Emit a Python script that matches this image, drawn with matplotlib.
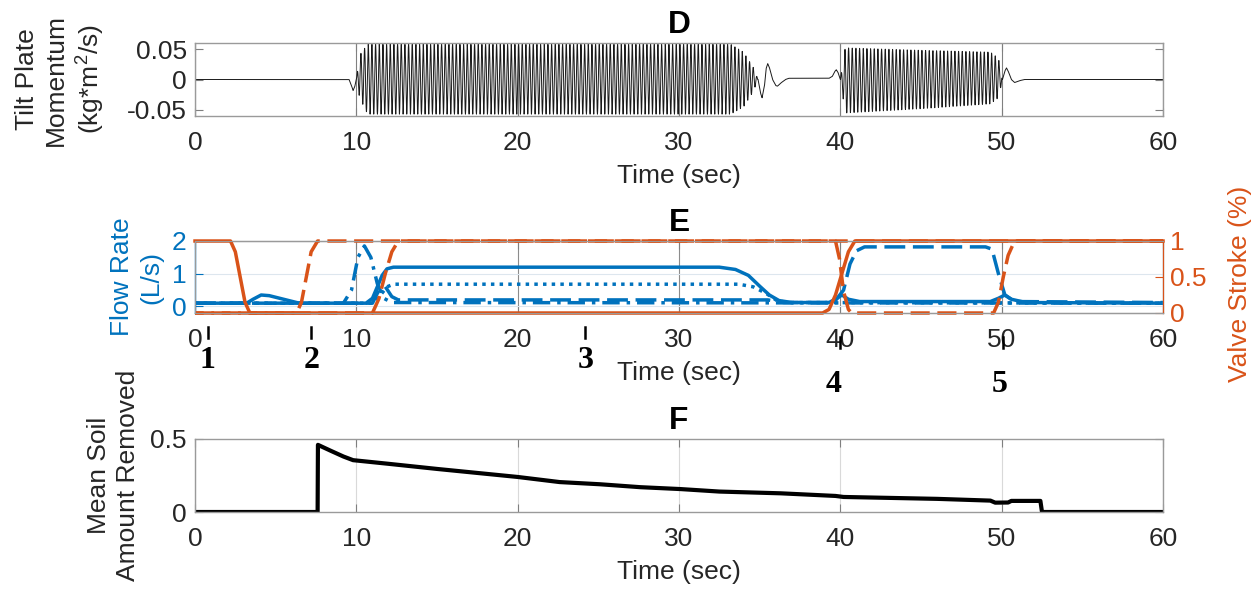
import numpy as np
import matplotlib
matplotlib.use('Agg')
import matplotlib.pyplot as plt
from matplotlib.transforms import blended_transform_factory

plt.rcParams['font.family'] = ['Liberation Sans', 'DejaVu Sans']
plt.rcParams['font.size'] = 19
plt.rcParams['mathtext.default'] = 'regular'

BLUE = '#0072BD'
ORANGE = '#D95319'
DARK = '#262626'

# ---------- D: tilt plate momentum (kg*m^2/s) ----------
# slow part of the trace (start/stop transients)
d_slow_t = [0, 9.55, 9.7, 9.8, 9.9, 10.0, 34.9, 35.05, 35.15, 35.3, 35.4, 35.5, 35.6,
            35.8, 36.0, 36.1, 36.3, 36.6, 36.8, 39.3, 39.5, 39.65, 39.75, 39.85, 40.0,
            50.05, 50.2, 50.3, 50.4, 50.6, 50.8, 51.1, 51.4, 60]
d_slow_v = [0, 0, -0.01, -0.018, -0.012, 0, 0, -0.022, -0.03, -0.01, 0.018, 0.026, 0.02,
            0.0, -0.01, -0.011, -0.006, 0.0, 0.002, 0.002, 0.005, 0.013, 0.016, 0.012, 0,
            0, 0.014, 0.019, 0.014, 0.0, -0.005, -0.002, 0, 0]
# upper / lower envelope of the fast oscillation
d_env_t = [0, 10.0, 10.2, 10.7, 33.2, 34.0, 34.6, 34.9, 40.0, 40.3, 45.0, 49.3, 49.8, 50.05, 60]
d_env_hi = [0, 0, 0.04, 0.058, 0.058, 0.045, 0.02, 0, 0, 0.052, 0.048, 0.045, 0.035, 0, 0]
d_env_lo = [0, 0, -0.03, -0.057, -0.057, -0.045, -0.02, 0, 0, -0.055, -0.048, -0.040, -0.03, 0, 0]
d_freq = 4.4  # Hz, counted from the stripes

# ---------- E: flow rate (L/s) and valve stroke ----------
q1_t = [0, 3.2, 3.6, 4.1, 4.6, 6.3, 6.5, 10.6, 11.0, 11.3, 11.6, 11.9, 12.3, 32.5, 33.5,
        34.3, 35.0, 35.6, 36.2, 37.0, 39.3, 39.8, 40.1, 40.5, 41.2, 49.3, 49.8, 50.2,
        50.6, 51.5, 60]
q1_v = [0.1, 0.1, 0.22, 0.35, 0.33, 0.12, 0.1, 0.1, 0.25, 0.6, 0.95, 1.15, 1.2, 1.2, 1.13,
        0.95, 0.62, 0.35, 0.18, 0.12, 0.12, 0.25, 0.35, 0.22, 0.15, 0.15, 0.25, 0.35,
        0.22, 0.12, 0.1]
q2_t = [0, 11.0, 11.4, 11.8, 12.2, 12.6, 35.5, 36.5, 39.6, 40.2, 40.6, 41.0, 41.5, 49.0,
        49.4, 49.8, 50.2, 50.8, 60]
q2_v = [0.1, 0.1, 0.5, 0.6, 0.3, 0.2, 0.2, 0.12, 0.12, 0.5, 1.3, 1.7, 1.82, 1.82,
        1.75, 1.0, 0.35, 0.15, 0.12]
q3_t = [0, 11.0, 11.5, 11.9, 12.3, 33.7, 34.6, 35.4, 36.1, 36.8, 60]
q3_v = [0.1, 0.1, 0.35, 0.6, 0.68, 0.68, 0.6, 0.4, 0.17, 0.12, 0.1]
q4_t = [0, 9.2, 9.7, 10.1, 10.5, 10.9, 11.3, 11.7, 12.2, 60]
q4_v = [0.1, 0.1, 0.5, 1.5, 1.85, 1.5, 0.7, 0.25, 0.12, 0.1]

v1_t = [0, 2.2, 2.5, 2.8, 3.1, 3.4, 38.9, 39.3, 39.7, 40.1, 40.5, 40.9, 60]
v1_v = [1, 1, 0.85, 0.5, 0.15, 0, 0, 0.05, 0.25, 0.55, 0.85, 1, 1]
v2_t = [0, 6.3, 6.6, 6.9, 7.2, 7.6, 39.7, 39.95, 40.2, 40.5, 40.7, 49.5, 49.8, 50.1,
        50.4, 50.8, 60]
v2_v = [0, 0, 0.15, 0.5, 0.85, 1, 1, 0.75, 0.3, 0.05, 0, 0, 0.15, 0.5, 0.8, 1, 1]
v3_t = [0, 11.0, 11.4, 11.8, 12.2, 12.6, 60]
v3_v = [0, 0, 0.2, 0.55, 0.85, 1, 1]

# event markers under panel E
ev_t = [0.8, 7.2, 24.2, 39.6, 49.9]
ev_tick_t = [0.8, 7.2, 24.2, 40.0, 50.1]
ev_lab = ['1', '2', '3', '4', '5']

# ---------- F: mean soil amount removed ----------
f_t = [0, 7.6, 7.62, 8.4, 9.2, 9.8, 12, 15, 20, 22.6, 25.1, 27.6, 30.1, 32.5, 36.3,
       39.7, 40.2, 46, 49.3, 49.6, 50.4, 50.6, 52.4, 52.5, 60]
f_v = [0, 0, 0.46, 0.42, 0.38, 0.355, 0.33, 0.295, 0.24, 0.205, 0.19, 0.17, 0.157,
       0.14, 0.128, 0.11, 0.103, 0.09, 0.078, 0.064, 0.065, 0.076, 0.076, 0, 0]


def style(ax, grid_color):
    ax.set_xlim(0, 60)
    ax.set_xticks(np.arange(0, 61, 10))
    ax.tick_params(direction='in', length=6, width=0.8, top=True, color='#7f7f7f',
                   labelcolor=DARK)
    ax.tick_params(axis='x', pad=11)
    ax.tick_params(axis='y', pad=6)
    for s in ax.spines.values():
        s.set_color('#9a9a9a')
        s.set_linewidth(1)
    ax.grid(axis='x', color=grid_color, lw=0.8)
    ax.set_axisbelow(True)
    ax.set_xlabel('Time (sec)', labelpad=6, color=DARK)


fig = plt.figure(figsize=(12.6, 5.9), dpi=100)
L, W = 195 / 1260, 968 / 1260
axD = fig.add_axes([L, 1 - 116 / 590, W, 73 / 590])
axE = fig.add_axes([L, 1 - 313 / 590, W, 72 / 590])
axF = fig.add_axes([L, 1 - 512 / 590, W, 73 / 590])

# D
t = np.linspace(0, 60, 24001)
hi = np.interp(t, d_env_t, d_env_hi)
lo = np.interp(t, d_env_t, d_env_lo)
d_sig = np.interp(t, d_slow_t, d_slow_v) + (hi + lo) / 2 + (hi - lo) / 2 * np.sin(2 * np.pi * d_freq * t)
axD.plot(t, d_sig, color='#1a1a1a', lw=0.7)
style(axD, '#808080')
axD.tick_params(right=True)
axD.set_ylim(-0.06, 0.06)
axD.set_yticks([-0.05, 0, 0.05])
axD.set_yticklabels(['-0.05', '0', '0.05'])
axD.set_title('D', fontweight='bold', pad=7)
axD.set_ylabel('Tilt Plate\nMomentum\n(kg*m$^2$/s)', va='center', ha='center',
               multialignment='center', linespacing=1.25, color=DARK)
axD.yaxis.set_label_coords(-0.1384, 0.5)

# E
style(axE, '#8c8c8c')
axE.grid(axis='y', color='#dde6ee', lw=0.8)
axE.set_ylim(-0.2, 2)
axE.set_yticks([0, 1, 2])
axE.tick_params(axis='y', colors=BLUE)
axE.spines['left'].set_color(BLUE)
lw = 2.5
axE.plot(q1_t, q1_v, color=BLUE, lw=lw, ls='-')
axE.plot(q2_t, q2_v, color=BLUE, lw=lw, ls=(0, (6, 2.2)))
axE.plot(q3_t, q3_v, color=BLUE, lw=lw, ls=(0, (1, 1.5)))
axE.plot(q4_t, q4_v, color=BLUE, lw=lw, ls=(0, (5, 2, 1, 2)))
axE.set_title('E', fontweight='bold', pad=7)
axE.set_ylabel('Flow Rate\n(L/s)', va='center', ha='center', multialignment='center',
               linespacing=1.25, color=BLUE)
axE.yaxis.set_label_coords(-0.0604, 0.5)

axE2 = axE.twinx()
axE2.set_xlim(0, 60)
axE2.set_ylim(0, 1)
axE2.set_yticks([0, 0.5, 1])
axE2.set_yticklabels(['0', '0.5', '1'])
axE2.tick_params(axis='y', direction='in', length=6, width=0.8, colors=ORANGE, pad=5)
for k, s in axE2.spines.items():
    s.set_color(ORANGE if k == 'right' else '#9a9a9a')
axE2.plot(v1_t, v1_v, color=ORANGE, lw=lw, ls='-', clip_on=False)
axE2.plot(v2_t, v2_v, color=ORANGE, lw=lw, ls=(0, (5.5, 2.2)), clip_on=False)
axE2.plot(v3_t, v3_v, color=ORANGE, lw=lw, ls=(3, (5.5, 2.2)), clip_on=False)
axE2.set_ylabel('Valve Stroke (%)', color=ORANGE, va='center', ha='center')
axE2.yaxis.set_label_coords(1.0795, 0.4)

trans = blended_transform_factory(axE.transData, axE.transAxes)
for i, (te, tk, lab) in enumerate(zip(ev_t, ev_tick_t, ev_lab)):
    low = i >= 3
    y_txt = -1.0 if low else -0.653
    y0, y1 = (-0.333, -0.486) if low else (-0.194, -0.347)
    axE.plot([tk, tk], [y0, y1], transform=trans, color='k', lw=1.8, clip_on=False)
    axE.text(te, y_txt, lab, transform=trans, ha='center', va='center', fontsize=23,
             fontweight='bold', family='Liberation Serif', clip_on=False)

# F
axF.plot(f_t, f_v, color='k', lw=3)
style(axF, '#d9d9d9')
axF.tick_params(right=True)
axF.set_ylim(0, 0.5)
axF.set_yticks([0, 0.5])
axF.set_yticklabels(['0', '0.5'])
axF.set_title('F', fontweight='bold', pad=7)
axF.set_ylabel('Mean Soil\nAmount Removed', va='center', ha='center',
               multialignment='center', linespacing=1.25, color=DARK)
axF.yaxis.set_label_coords(-0.0845, 0.5)

fig.savefig('out.png', dpi=100)
